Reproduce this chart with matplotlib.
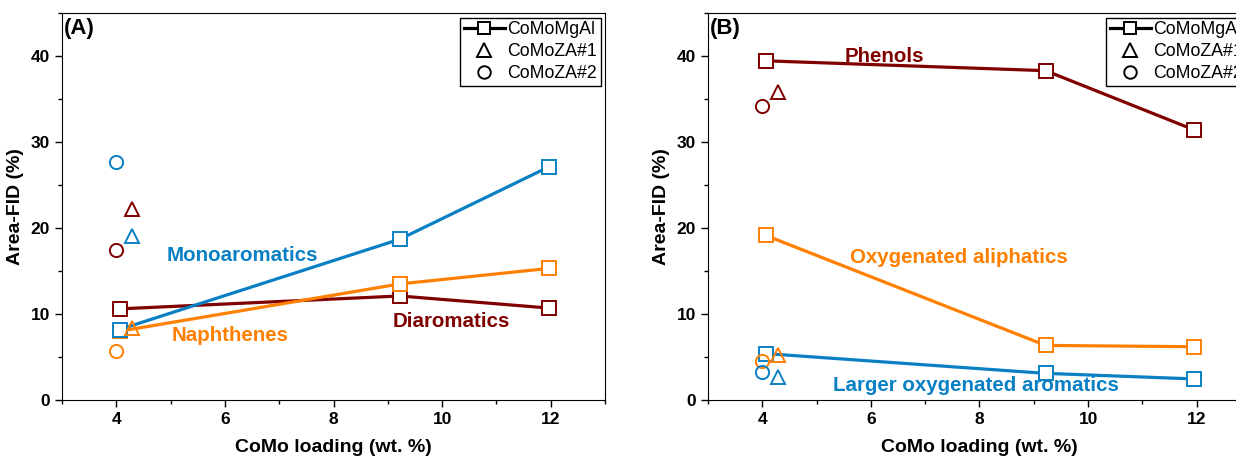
import matplotlib
matplotlib.use("Agg")
import matplotlib.pyplot as plt
from matplotlib.lines import Line2D
from matplotlib.ticker import MultipleLocator

plt.rcParams['font.family'] = ['Liberation Sans', 'DejaVu Sans']

blue = '#0A80C4'
orange = '#FF8000'
darkred = '#800000'

# CoMo loading of the three catalyst families
x_mgal = [4.06, 9.22, 11.96]
x_za1 = 4.29
x_za2 = 4.0

# (A) hydrocarbons
mono_mgal = [8.2, 18.7, 27.1]
naph_mgal = [8.0, 13.5, 15.3]
diar_mgal = [10.6, 12.1, 10.7]
mono_za1, naph_za1, diar_za1 = 19.1, 8.4, 22.2
mono_za2, naph_za2, diar_za2 = 27.7, 5.65, 17.4

# (B) oxygenates
phen_mgal = [39.45, 38.3, 31.4]
oxal_mgal = [19.15, 6.35, 6.2]
lox_mgal = [5.4, 3.1, 2.45]
phen_za1, oxal_za1, lox_za1 = 35.8, 5.2, 2.65
phen_za2, oxal_za2, lox_za2 = 34.2, 4.55, 3.3

fig = plt.figure(figsize=(12.36, 4.59), dpi=100)
axA = fig.add_axes([0.0502, 0.1285, 0.4393, 0.843])
axB = fig.add_axes([0.5728, 0.1285, 0.4393, 0.843])


def draw(ax, mg, za1, za2, col):
    ax.plot(x_mgal, mg, '-', color=col, lw=2.3, marker='s', ms=9.5, mew=1.4,
            mfc='white', mec=col, zorder=3)
    ax.plot([x_za1], [za1], linestyle='none', marker='^', ms=10.5, mew=1.4,
            mfc='none', mec=col, zorder=4)
    ax.plot([x_za2], [za2], linestyle='none', marker='o', ms=9.5, mew=1.4,
            mfc='none', mec=col, zorder=4)


draw(axA, diar_mgal, diar_za1, diar_za2, darkred)
draw(axA, naph_mgal, naph_za1, naph_za2, orange)
draw(axA, mono_mgal, mono_za1, mono_za2, blue)

draw(axB, phen_mgal, phen_za1, phen_za2, darkred)
draw(axB, oxal_mgal, oxal_za1, oxal_za2, orange)
draw(axB, lox_mgal, lox_za1, lox_za2, blue)

tk = dict(fontsize=14.8, fontweight='bold', va='center', ha='left')
axA.text(4.93, 16.75, 'Monoaromatics', color=blue, **tk)
axA.text(5.02, 7.55, 'Naphthenes', color=orange, **tk)
axA.text(9.08, 9.13, 'Diaromatics', color=darkred, **tk)
axB.text(5.52, 40.0, 'Phenols', color=darkred, **tk)
axB.text(5.62, 16.55, 'Oxygenated aliphatics', color=orange, **tk)
axB.text(5.31, 1.66, 'Larger oxygenated aromatics', color=blue, **tk)

handles = [
    Line2D([], [], color='black', lw=2.3, marker='s', ms=9, mew=1.4, mfc='white', mec='black'),
    Line2D([], [], linestyle='none', marker='^', ms=10, mew=1.4, mfc='none', mec='black'),
    Line2D([], [], linestyle='none', marker='o', ms=9, mew=1.4, mfc='none', mec='black'),
]
labels = ['CoMoMgAl', 'CoMoZA#1', 'CoMoZA#2']

for ax, tag in [(axA, '(A)'), (axB, '(B)')]:
    ax.set_xlim(3, 13)
    ax.set_ylim(0, 45)
    ax.xaxis.set_major_locator(MultipleLocator(2))
    ax.xaxis.set_minor_locator(MultipleLocator(1))
    ax.yaxis.set_major_locator(MultipleLocator(10))
    ax.yaxis.set_minor_locator(MultipleLocator(5))
    ax.set_xticks([4, 6, 8, 10, 12])
    ax.tick_params(which='major', direction='out', length=5, width=1, labelsize=12.5)
    ax.tick_params(which='minor', direction='out', length=3, width=1)
    for lab in ax.get_xticklabels() + ax.get_yticklabels():
        lab.set_fontweight('bold')
    ax.set_xlabel('CoMo loading (wt. %)', fontsize=14, fontweight='bold', labelpad=9)
    ax.set_ylabel('Area-FID (%)', fontsize=14, fontweight='bold', labelpad=5)
    ax.text(0.004, 0.987, tag, transform=ax.transAxes, fontsize=16, fontweight='bold',
            va='top', ha='left')
    leg = ax.legend(handles, labels, loc='upper right', fontsize=12.8, frameon=True,
                    fancybox=False, edgecolor='black', framealpha=1,
                    handlelength=2.3, handletextpad=0.15, labelspacing=0.28,
                    borderpad=0.2, borderaxespad=0.25)
    leg.get_frame().set_linewidth(1.0)

fig.savefig('out.png', dpi=100)
